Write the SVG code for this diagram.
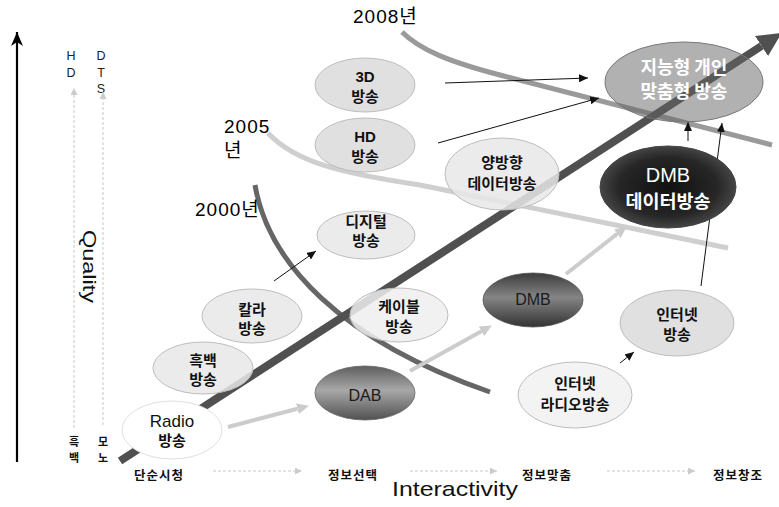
<svg xmlns="http://www.w3.org/2000/svg" width="779" height="507" viewBox="0 0 779 507">
<defs>
<style>
.k{font-family:"Noto Sans CJK KR","Liberation Sans",sans-serif;font-size:15px;fill:#111;text-anchor:middle;font-weight:600}
.l{font-family:"Liberation Sans","Noto Sans CJK KR",sans-serif;fill:#111}
.lb{font-family:"Liberation Sans",sans-serif;font-size:15px;font-weight:700;fill:#111;text-anchor:middle}
.yr{font-family:"Liberation Sans","Noto Sans CJK KR",sans-serif;font-size:19px;fill:#000;letter-spacing:1px}
.ax{font-family:"Noto Sans CJK KR",sans-serif;font-size:12.5px;font-weight:700;fill:#111;text-anchor:middle}
.ax2{font-family:"Noto Sans CJK KR",sans-serif;font-size:11px;font-weight:700;fill:#111;text-anchor:middle}
.sm{font-family:"Liberation Sans",sans-serif;font-size:12.5px;fill:#222;text-anchor:middle}
.thin{stroke:#111;stroke-width:1;fill:none;marker-end:url(#mb)}
.gry{stroke:#cccccc;stroke-width:4;fill:none;marker-end:url(#mg)}
.dsh{stroke:#c8c8c8;stroke-width:1;stroke-dasharray:3 2;fill:none;marker-end:url(#md)}
.lite{stroke:#bdbdbd;stroke-width:1;fill-opacity:0.85}
</style>
<marker id="mb" markerUnits="userSpaceOnUse" markerWidth="9" markerHeight="8" refX="9" refY="4" orient="auto"><path d="M0,0 L9,4 L0,8 z" fill="#111"/></marker>
<marker id="mg" markerUnits="userSpaceOnUse" markerWidth="12" markerHeight="11" refX="0" refY="5.5" orient="auto"><path d="M0,0 L12,5.5 L0,11 z" fill="#cccccc"/></marker>
<marker id="md" markerUnits="userSpaceOnUse" markerWidth="7" markerHeight="7" refX="7" refY="3.5" orient="auto"><path d="M0,0 L7,3.5 L0,7 z" fill="#cccccc"/></marker>
<marker id="ma" markerUnits="userSpaceOnUse" markerWidth="14" markerHeight="12" refX="14" refY="6" orient="auto"><path d="M0,0 L14,6 L0,12 L4,6 z" fill="#000"/></marker>
<marker id="mm" markerUnits="userSpaceOnUse" markerWidth="24" markerHeight="24" refX="0" refY="12" orient="auto"><path d="M0,0 L24,12 L0,24 z" fill="#505050"/></marker>
<linearGradient id="gDMB" x1="0" y1="0" x2="0" y2="1"><stop offset="0" stop-color="#3c3c3c"/><stop offset="0.45" stop-color="#858585"/><stop offset="1" stop-color="#333"/></linearGradient>
<linearGradient id="gDAB" x1="0" y1="0" x2="0" y2="1"><stop offset="0" stop-color="#5e5e5e"/><stop offset="0.45" stop-color="#a8a8a8"/><stop offset="1" stop-color="#505050"/></linearGradient>
<radialGradient id="gDD" cx="0.5" cy="0.5" r="0.6"><stop offset="0" stop-color="#111"/><stop offset="0.6" stop-color="#262626"/><stop offset="1" stop-color="#5a5a5a"/></radialGradient>
</defs>
<rect width="779" height="507" fill="#fff"/>

<g id="axes">
<line x1="17" y1="462" x2="17" y2="32" stroke="#000" stroke-width="2.2" marker-end="url(#ma)"/>
<text class="sm" x="71" y="60">H</text>
<text class="sm" x="71" y="77">D</text>
<text class="sm" x="101" y="60">D</text>
<text class="sm" x="101" y="77">T</text>
<text class="sm" x="101" y="93">S</text>
<line class="dsh" x1="74" y1="428" x2="74" y2="88"/>
<line class="dsh" x1="103" y1="425" x2="103" y2="92"/>
<text class="ax2" x="74" y="446">흑</text>
<text class="ax2" x="74" y="462">백</text>
<text class="ax2" x="103" y="446">모</text>
<text class="ax2" x="103" y="462">노</text>
<text class="l" transform="translate(83,230) rotate(90)" font-size="19" textLength="73" lengthAdjust="spacingAndGlyphs">Quality</text>
<text class="ax" x="159" y="480" letter-spacing="1">단순시청</text>
<text class="ax" x="353" y="480" letter-spacing="1">정보선택</text>
<text class="ax" x="547" y="480" letter-spacing="1">정보맞춤</text>
<text class="ax" x="738" y="480" letter-spacing="1">정보창조</text>
<line class="dsh" x1="213" y1="471" x2="302" y2="471"/>
<line class="dsh" x1="410" y1="471" x2="497" y2="471"/>
<line class="dsh" x1="607" y1="471" x2="695" y2="471"/>
<text class="l" x="392" y="496" font-size="21" textLength="126" lengthAdjust="spacingAndGlyphs">Interactivity</text>
</g>

<g id="eras">
<path d="M402,32 C420,50 450,62 500,75 L772,145" stroke="#9a9a9a" stroke-width="5" fill="none"/>
<path d="M268,133 C295,162 340,173 420,185 L728,248" stroke="#cfcfcf" stroke-width="5" fill="none"/>
<path d="M255,185 C268,262 340,340 490,392" stroke="#666" stroke-width="5" fill="none"/>
<text class="yr" x="353" y="23">2008년</text>
<text class="yr" x="224" y="133">2005</text>
<text class="yr" x="224" y="157">년</text>
<text class="yr" x="195" y="216">2000년</text>
</g>

<g id="connectors">
<line x1="120" y1="461" x2="761.5" y2="46" stroke="#505050" stroke-width="8" marker-end="url(#mm)"/>
<line class="thin" x1="445" y1="83" x2="588" y2="78"/>
<line class="thin" x1="438" y1="143" x2="599" y2="98"/>
<line class="thin" x1="688" y1="141" x2="688" y2="122"/>
<line class="thin" x1="701" y1="286" x2="722" y2="123"/>
<line class="thin" x1="274" y1="281" x2="316" y2="251"/>
<line class="thin" x1="620" y1="363" x2="634" y2="352"/>
<line class="gry" x1="228" y1="427" x2="297.4" y2="408.8"/>
<line class="gry" x1="410" y1="371" x2="481.4" y2="331.3"/>
<line class="gry" x1="566" y1="274" x2="617.3" y2="233.8"/>
</g>

<g id="n-3d">
<ellipse class="lite" cx="365" cy="85" rx="50" ry="27" fill="#dadada"/>
<text class="lb" x="365" y="81.5">3D</text>
<text class="k" x="365" y="102">방송</text>
</g>
<g id="n-hd">
<ellipse class="lite" cx="365" cy="145" rx="50" ry="27" fill="#dadada"/>
<text class="lb" x="365" y="141.5">HD</text>
<text class="k" x="365" y="162">방송</text>
</g>
<g id="n-smart">
<ellipse cx="684" cy="82" rx="79" ry="40" fill="#636363" fill-opacity="0.5" stroke="#777" stroke-width="1"/>
<text class="k" x="684" y="74" style="fill:#fff;font-size:18px">지능형 개인</text>
<text class="k" x="684" y="98" style="fill:#fff;font-size:18px">맞춤형 방송</text>
</g>
<g id="n-twoway">
<ellipse class="lite" cx="502" cy="174" rx="57" ry="36" fill="#e8e8e8" stroke="#d0d0d0"/>
<text class="k" x="502" y="168">양방향</text>
<text class="k" x="502" y="189">데이터방송</text>
</g>
<g id="n-dmbdata">
<ellipse cx="668" cy="187" rx="68" ry="41" fill="url(#gDD)" stroke="#444" stroke-width="1"/>
<text class="l" x="668" y="182" text-anchor="middle" style="fill:#fff;font-size:20px">DMB</text>
<text class="k" x="668" y="208" style="fill:#fff;font-size:18.5px">데이터방송</text>
</g>
<g id="n-digital">
<ellipse class="lite" cx="366" cy="235" rx="49" ry="24" fill="#e8e8e8" stroke="#d0d0d0"/>
<text class="k" x="366" y="227">디지털</text>
<text class="k" x="366" y="246">방송</text>
</g>
<g id="n-color">
<ellipse class="lite" cx="252" cy="316" rx="50" ry="27" fill="#e8e8e8" stroke="#d8d8d8"/>
<text class="k" x="252" y="315">칼라</text>
<text class="k" x="252" y="334">방송</text>
</g>
<g id="n-bw">
<ellipse class="lite" cx="203" cy="368" rx="50" ry="26" fill="#e8e8e8" stroke="#d8d8d8"/>
<text class="k" x="203" y="366">흑백</text>
<text class="k" x="203" y="385">방송</text>
</g>
<g id="n-cable">
<ellipse class="lite" cx="399" cy="315" rx="49" ry="27" fill="#eeeeee" stroke="#c8c8c8"/>
<text class="k" x="399" y="312">케이블</text>
<text class="k" x="399" y="332">방송</text>
</g>
<g id="n-dmb">
<ellipse cx="533" cy="300" rx="50" ry="27" fill="url(#gDMB)" stroke="#555" stroke-width="0.8"/>
<text class="l" x="533" y="305" font-size="16" text-anchor="middle" style="fill:#1a1a1a">DMB</text>
</g>
<g id="n-dab">
<ellipse cx="365" cy="393" rx="50" ry="27" fill="url(#gDAB)" stroke="#666" stroke-width="0.8"/>
<text class="l" x="365" y="401" font-size="16" text-anchor="middle" style="fill:#1a1a1a">DAB</text>
</g>
<g id="n-inet">
<ellipse class="lite" cx="677" cy="323" rx="57" ry="33" fill="#dadada" stroke="#bbb"/>
<text class="k" x="677" y="320">인터넷</text>
<text class="k" x="677" y="340">방송</text>
</g>
<g id="n-iradio">
<ellipse class="lite" cx="575" cy="395" rx="57" ry="33" fill="#f1f1f1" stroke="#e4e4e4"/>
<text class="k" x="575" y="389">인터넷</text>
<text class="k" x="575" y="410">라디오방송</text>
</g>
<g id="n-radio">
<ellipse cx="172" cy="430" rx="50" ry="29" fill="#fff" stroke="#e0e0e0" stroke-width="1"/>
<text class="l" x="172" y="427" font-size="17" text-anchor="middle">Radio</text>
<text class="k" x="172" y="446">방송</text>
</g>
</svg>
